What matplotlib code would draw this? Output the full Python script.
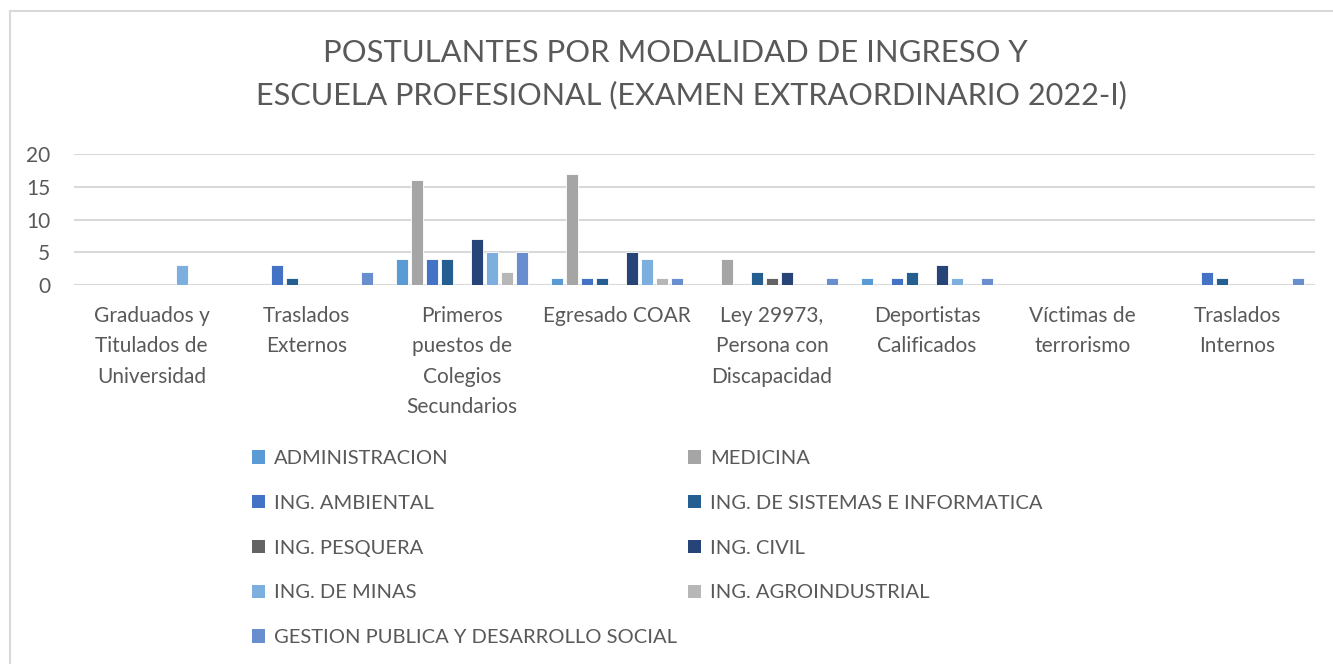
import matplotlib.pyplot as plt
from matplotlib.lines import Line2D
from matplotlib.patches import Patch
import numpy as np

plt.rcParams['font.family'] = ['Lato', 'DejaVu Sans']

categorias = ['Graduados y\nTitulados de\nUniversidad', 'Traslados\nExternos',
              'Primeros\npuestos de\nColegios\nSecundarios', 'Egresado COAR',
              'Ley 29973,\nPersona con\nDiscapacidad', 'Deportistas\nCalificados',
              'Víctimas de\nterrorismo', 'Traslados\nInternos']

escuelas = ['ADMINISTRACION', 'MEDICINA', 'ING. AMBIENTAL',
            'ING. DE SISTEMAS E INFORMATICA', 'ING. PESQUERA', 'ING. CIVIL',
            'ING. DE MINAS', 'ING. AGROINDUSTRIAL',
            'GESTION PUBLICA Y DESARROLLO SOCIAL']

administracion = [0, 0, 4, 1, 0, 1, 0, 0]
medicina = [0, 0, 16, 17, 4, 0, 0, 0]
ing_ambiental = [0, 3, 4, 1, 0, 1, 0, 2]
ing_sistemas = [0, 1, 4, 1, 2, 2, 0, 1]
ing_pesquera = [0, 0, 0, 0, 1, 0, 0, 0]
ing_civil = [0, 0, 7, 5, 2, 3, 0, 0]
ing_minas = [3, 0, 5, 4, 0, 1, 0, 0]
ing_agroindustrial = [0, 0, 2, 1, 0, 0, 0, 0]
gestion_publica = [0, 2, 5, 1, 1, 1, 0, 1]

series = [administracion, medicina, ing_ambiental, ing_sistemas, ing_pesquera,
          ing_civil, ing_minas, ing_agroindustrial, gestion_publica]
colores = ['#5B9BD5', '#A5A5A5', '#4472C4', '#255E91', '#636363',
           '#264478', '#7CAFDD', '#B7B7B7', '#698ED0']

gris = '#595959'

fig = plt.figure(figsize=(13.33, 6.64), dpi=100)
ax = fig.add_axes([74 / 1333, 1 - 285 / 664, 1241 / 1333, 131 / 664])

x = np.arange(len(categorias))
paso = 0.097
ancho = 0.078
for i, (vals, c) in enumerate(zip(series, colores)):
    ax.bar(x + (i - 4) * paso, vals, width=ancho, color=c,
           edgecolor='white', linewidth=0.6, zorder=3)

ax.set_xlim(-0.5, len(categorias) - 0.5)
ax.set_ylim(0, 20)
ax.set_yticks([0, 5, 10, 15, 20])
ax.grid(axis='y', color='#D9D9D9', linewidth=1.5, zorder=0)
for s in ax.spines.values():
    s.set_visible(False)
ax.tick_params(axis='both', length=0, colors=gris, labelsize=15)
ax.tick_params(axis='y', pad=17)
ax.tick_params(axis='x', pad=15)
ax.set_xticks(x)
ax.set_xticklabels(categorias, linespacing=1.65)

fig.text(675 / 1333, 1 - 53 / 664, 'POSTULANTES POR MODALIDAD DE INGRESO Y',
         ha='center', va='center', fontsize=22.3, color=gris)
fig.text(691 / 1333, 1 - 95 / 664, 'ESCUELA PROFESIONAL (EXAMEN EXTRAORDINARIO 2022-I)',
         ha='center', va='center', fontsize=22.1, color=gris)

# leyenda en dos columnas, orden por filas como en el original
orden = [0, 2, 4, 6, 8, 1, 3, 5, 7]
handles = [Patch(facecolor=colores[i], edgecolor='none') for i in orden]
labels = [escuelas[i] for i in orden]
fig.legend(handles, labels, ncol=2, loc='upper left',
           bbox_to_anchor=(252 / 1333, 1 - 450 / 664), frameon=False,
           fontsize=14.5, labelcolor=gris, handlelength=0.65, handleheight=0.65,
           handletextpad=0.45, labelspacing=1.38, columnspacing=0.55,
           borderpad=0, borderaxespad=0)

# borde del area del grafico
fig.add_artist(Line2D([10 / 1333, 10 / 1333], [0, 1 - 11 / 664],
                      color='#D9D9D9', linewidth=1.5))
fig.add_artist(Line2D([10 / 1333, 1], [1 - 11 / 664, 1 - 11 / 664],
                      color='#D9D9D9', linewidth=1.5))

plt.savefig('out.png', dpi=100)
plt.close()
